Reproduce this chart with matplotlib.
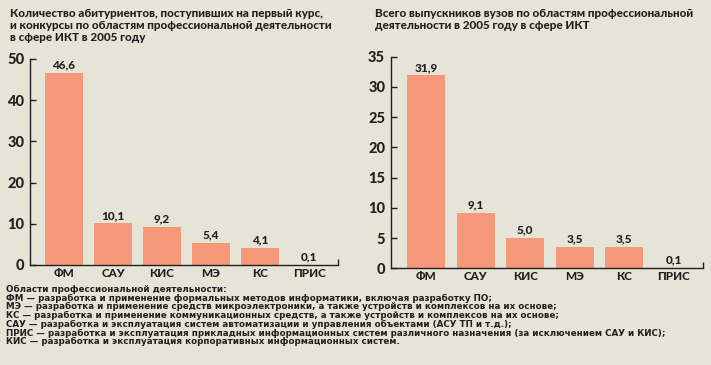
import matplotlib
matplotlib.use("Agg")
import matplotlib.pyplot as plt

# данные
categories = ['ФМ', 'САУ', 'КИС', 'МЭ', 'КС', 'ПРИС']
admitted = [46.6, 10.1, 9.2, 5.4, 4.1, 0.1]
admitted_labels = ['46,6', '10,1', '9,2', '5,4', '4,1', '0,1']
graduates = [31.9, 9.1, 5.0, 3.5, 3.5, 0.1]
graduates_labels = ['31,9', '9,1', '5,0', '3,5', '3,5', '0,1']
left_yticks = [0, 10, 20, 30, 40, 50]
right_yticks = [0, 5, 10, 15, 20, 25, 30, 35]

title_left = ('Количество абитуриентов, поступивших на первый курс,\n'
              'и конкурсы по областям профессиональной деятельности\n'
              'в сфере ИКТ в 2005 году')
title_right = ('Всего выпускников вузов по областям профессиональной\n'
               'деятельности в 2005 году в сфере ИКТ')
notes = ['Области профессиональной деятельности:',
         'ФМ — разработка и применение формальных методов информатики, включая разработку ПО;',
         'МЭ — разработка и применение средств микроэлектроники, а также устройств и комплексов на их основе;',
         'КС — разработка и применение коммуникационных средств, а также устройств и комплексов на их основе;',
         'САУ — разработка и эксплуатация систем автоматизации и управления объектами (АСУ ТП и т.д.);',
         'ПРИС — разработка и эксплуатация прикладных информационных систем различного назначения (за исключением САУ и КИС);',
         'КИС — разработка и эксплуатация корпоративных информационных систем.']

BG = '#e6e3d7'
BAR = '#f6997a'
INK = '#231f20'
NARROW = ['Lato', 'DejaVu Sans']
HEAVY = 900

W, H = 711, 365
fig = plt.figure(figsize=(W / 100, H / 100), dpi=100, facecolor=BG)
renderer = fig.canvas.get_renderer()


def px_axes(x0, x1, y_top, y_bot):
    return fig.add_axes([x0 / W, 1 - y_bot / H, (x1 - x0) / W, (y_bot - y_top) / H])


def fit(txt, target_w):
    # подгоняем размер шрифта под ширину текста в оригинале
    w = txt.get_window_extent(renderer).width
    txt.set_fontsize(txt.get_fontsize() * target_w / w)


def draw(ax, values, labels, yticks, xlim, width):
    ax.set_facecolor(BG)
    x = range(len(categories))
    ax.bar(x, values, width=width, color=BAR)
    for xi, v, lab in zip(x, values, labels):
        ax.text(xi, v + yticks[-1] * 0.012, lab, ha='center', va='bottom',
                fontsize=8.5, fontweight=HEAVY, color=INK, family=NARROW)
    ax.set_xlim(*xlim)
    ax.set_ylim(0, yticks[-1])
    ax.set_yticks(yticks)
    ax.set_xticks(list(x))
    ax.set_xticklabels(categories)
    ax.set_xticks([xlim[1]], minor=True)
    for s in ['top', 'right']:
        ax.spines[s].set_visible(False)
    for s in ['left', 'bottom']:
        ax.spines[s].set_color(INK)
        ax.spines[s].set_linewidth(1.0)
    ax.tick_params(axis='y', direction='in', length=4, width=1, color=INK, pad=4,
                   labelsize=10.5, labelcolor=INK)
    ax.tick_params(axis='x', which='major', length=0, pad=2, labelsize=8.5, labelcolor=INK)
    ax.tick_params(axis='x', which='minor', direction='in', length=4, width=1, color=INK)
    for t in ax.get_yticklabels() + ax.get_xticklabels():
        t.set_fontweight(HEAVY)
        t.set_family(NARROW)


ax1 = px_axes(30, 338, 59, 265)
draw(ax1, admitted, admitted_labels, left_yticks, (-0.694, 5.59), 0.776)

ax2 = px_axes(390.7, 702.7, 56.7, 268.3)
draw(ax2, graduates, graduates_labels, right_yticks, (-0.71, 5.58), 0.766)

t1 = fig.text(10 / W, 1 - 8 / H, title_left, ha='left', va='top', fontsize=9,
              fontweight=HEAVY, color=INK, family=NARROW, linespacing=1.1)
fit(t1, 323)
t2 = fig.text(375 / W, 1 - 8 / H, title_right, ha='left', va='top',
              fontsize=t1.get_fontsize(), fontweight=HEAVY, color=INK,
              family=NARROW, linespacing=1.1)

t3 = fig.text(6 / W, 1 - 285 / H, '\n'.join(notes), ha='left', va='top', fontsize=6.3,
              fontweight='bold', color=INK, family='DejaVu Sans', linespacing=0.95)
fit(t3, 662)

fig.savefig('out.png', dpi=100, facecolor=BG)
